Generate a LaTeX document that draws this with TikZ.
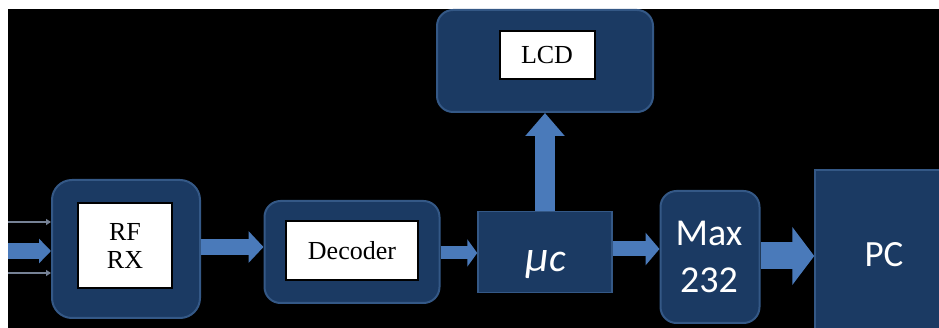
\documentclass[tikz,border=0pt]{standalone}
\usepackage{fontspec}
\setmainfont{Liberation Serif}
\newfontfamily\carlito{Carlito}
\usetikzlibrary{arrows.meta}

\definecolor{navy}{RGB}{27,58,99}
\definecolor{navyedge}{RGB}{52,88,134}
\definecolor{arrowblue}{RGB}{74,122,186}
\definecolor{thinline}{RGB}{118,130,150}

\tikzset{
  block/.style={draw=navyedge, fill=navy, line width=2pt, inner sep=0pt, rounded corners=16pt},
  plainblock/.style={draw=navyedge, fill=navy, line width=1.5pt, inner sep=0pt},
  label box/.style={draw=black, fill=white, line width=2pt, inner sep=0pt,
                    font=\fontsize{26}{28}\selectfont, align=center},
  sans label/.style={text=white, align=center},
  flow/.style={draw=arrowblue, line width=#1},
  flow/.default=15pt,
}

\begin{document}
\begin{tikzpicture}[x=1pt, y=-1pt]
  \useasboundingbox (0,0) rectangle (939,328);
  \fill[black] (8,9) rectangle (939,328);

  % outer blocks
  \node[block, rounded corners=20pt, minimum width=148pt, minimum height=138pt] (rf) at (126,249) {};
  \node[block, minimum width=175pt, minimum height=102pt] (dec) at (352,252) {};
  \node[plainblock, minimum width=134pt, minimum height=81pt] (mu) at (545,252) {};
  \node[block, minimum width=216pt, minimum height=102pt] (lcd) at (545,61) {};
  \node[block, minimum width=99pt, minimum height=132pt] (max) at (710,257) {};
  \node[plainblock, minimum width=138pt, minimum height=170pt,
        sans label, font=\carlito\fontsize{37}{40}\selectfont] (pc) at (884,255) {PC};

  % labels on the blocks
  \node[label box, minimum width=94pt, minimum height=85pt] (rflabel) at (125,246) {RF\\RX};
  \node[label box, minimum width=132pt, minimum height=59pt] (declabel) at (352,251) {Decoder};
  \node[label box, minimum width=95pt, minimum height=48pt] (lcdlabel) at (547,55) {LCD};
  \node[sans label, font=\carlito\fontsize{38}{47}\selectfont] (maxlabel) at (709,257) {Max\\232};
  \node[sans label, anchor=base] (mulabel) at (546,272)
       {\carlito\itshape\fontsize{44}{44}\selectfont μ\fontsize{40}{40}\selectfont c};

  % incoming signal lines
  \coordinate (inA) at (8,222);
  \coordinate (inB) at (8,251);
  \coordinate (inC) at (8,273);
  \draw[draw=thinline, line width=1.5pt, -{Triangle[length=5pt,width=6pt]}] (inA) -- (inA -| rf.west);
  \draw[draw=thinline, line width=1.5pt, -{Triangle[length=5pt,width=6pt]}] (inC) -- (inC -| rf.west);
  \draw[flow=16pt, -{Triangle[length=12pt,width=24pt]}] (inB) -- (inB -| rf.west);

  % data path
  \draw[flow=16pt, -{Triangle[length=15pt,width=31pt]}] (rf.east |- 0,247) -- (dec.west |- 0,247);
  \draw[flow=13pt, -{Triangle[length=10pt,width=27pt]}] (dec.east |- 0,253) -- (mu.west |- 0,253);
  \draw[flow=15pt, -{Triangle[length=14pt,width=32pt]}] (mu.east |- 0,249) -- (max.west |- 0,249);
  \draw[flow=27pt, -{Triangle[length=22pt,width=57pt]}] (max.east |- 0,256) -- (pc.west |- 0,256);
  \draw[flow=20pt, -{Triangle[length=23pt,width=38pt]}] (mu.north) -- (lcd.south);
\end{tikzpicture}
\end{document}
